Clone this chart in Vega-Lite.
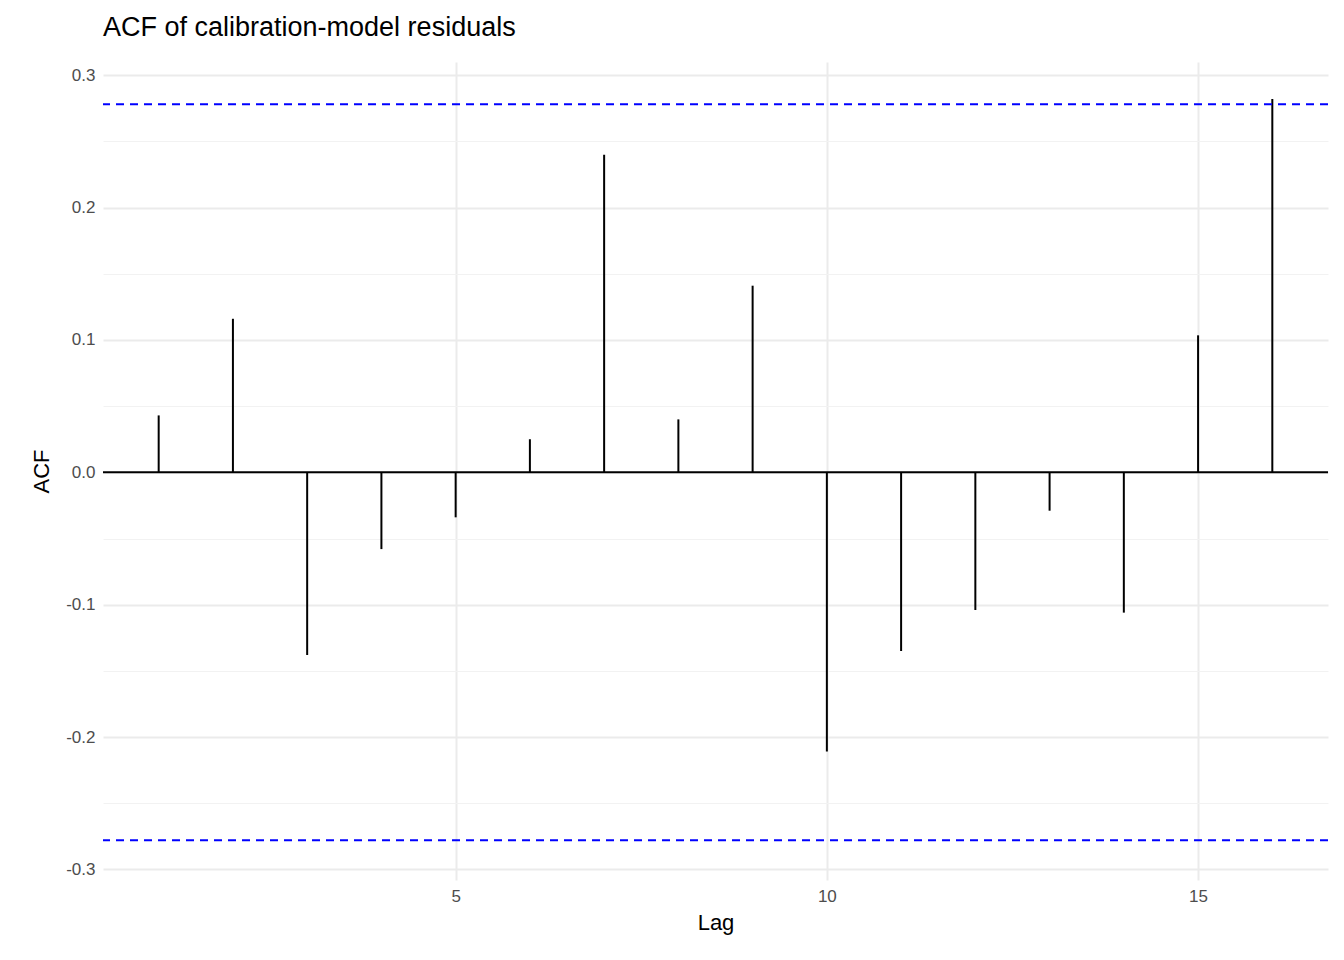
{
  "$schema": "https://vega.github.io/schema/vega-lite/v6.json",
  "width": 1225,
  "height": 818,
  "autosize": {"type": "none"},
  "padding": {"left": 103, "top": 62, "right": 16, "bottom": 80},
  "background": "white",
  "title": {"text": "ACF of calibration-model residuals", "anchor": "start", "frame": "group", "fontSize": 27, "font": "Liberation Sans", "fontWeight": "normal", "color": "black", "offset": 20},
  "config": {
    "view": {"stroke": null},
    "axis": {"font": "Liberation Sans", "labelFont": "Liberation Sans", "titleFont": "Liberation Sans", "domain": false, "ticks": false, "labelFontSize": 17, "labelColor": "#4D4D4D", "titleFontSize": 22, "titleColor": "black", "titleFontWeight": "normal"}
  },
  "datasets": {
    "acf": [
      {"lag": 1, "acf": 0.043}, {"lag": 2, "acf": 0.116}, {"lag": 3, "acf": -0.138},
      {"lag": 4, "acf": -0.058}, {"lag": 5, "acf": -0.034}, {"lag": 6, "acf": 0.025},
      {"lag": 7, "acf": 0.240}, {"lag": 8, "acf": 0.040}, {"lag": 9, "acf": 0.141},
      {"lag": 10, "acf": -0.211}, {"lag": 11, "acf": -0.135}, {"lag": 12, "acf": -0.104},
      {"lag": 13, "acf": -0.029}, {"lag": 14, "acf": -0.106}, {"lag": 15, "acf": 0.1035},
      {"lag": 16, "acf": 0.282}
    ],
    "bounds": [{"b": 0.278}, {"b": -0.278}],
    "zero": [{"z": 0}]
  },
  "layer": [
    {
      "data": {"name": "acf"},
      "mark": {"type": "rule", "color": "black", "strokeWidth": 2},
      "encoding": {
        "x": {"field": "lag", "type": "quantitative", "title": "Lag",
          "scale": {"domain": [0.25, 16.75], "nice": false, "zero": false},
          "axis": {"values": [5, 10, 15], "gridColor": "#EBEBEB", "gridWidth": 2,
            "labelPadding": 8, "titlePadding": 8}},
        "y": {"field": "acf", "type": "quantitative", "title": "ACF",
          "scale": {"domain": [-0.308, 0.31], "nice": false},
          "axis": {"values": [-0.3, -0.25, -0.2, -0.15, -0.1, -0.05, 0, 0.05, 0.1, 0.15, 0.2, 0.25, 0.3],
            "labelExpr": "abs(datum.value * 100) % 10 < 0.01 || abs(datum.value * 100) % 10 > 9.99 ? replace(format(datum.value, '.1f'), '−', '-') : ''",
            "gridColor": {"condition": {"test": "abs(datum.value * 100) % 10 < 0.01 || abs(datum.value * 100) % 10 > 9.99", "value": "#EBEBEB"}, "value": "#F2F2F2"},
            "gridWidth": {"condition": {"test": "abs(datum.value * 100) % 10 < 0.01 || abs(datum.value * 100) % 10 > 9.99", "value": 2}, "value": 1},
            "labelPadding": 8, "titlePadding": 12}},
        "y2": {"datum": 0}
      }
    },
    {
      "data": {"name": "zero"},
      "mark": {"type": "rule", "color": "black", "strokeWidth": 2},
      "encoding": {"y": {"field": "z", "type": "quantitative"}}
    },
    {
      "data": {"name": "bounds"},
      "mark": {"type": "rule", "color": "#0000FF", "strokeWidth": 2, "strokeDash": [8, 6]},
      "encoding": {"y": {"field": "b", "type": "quantitative"}}
    }
  ]
}
